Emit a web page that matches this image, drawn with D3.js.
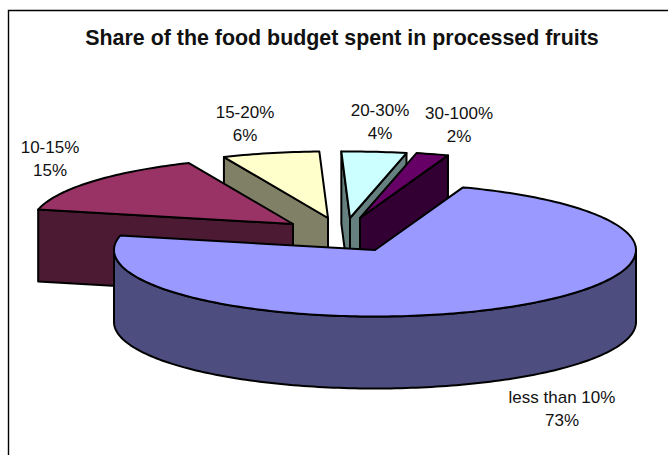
<!DOCTYPE html>
<html>
<head>
<meta charset="utf-8">
<script src="https://cdn.jsdelivr.net/npm/d3@7"></script>
<style>
  html, body { margin: 0; padding: 0; background: #fff; }
  svg { display: block; }
  text { font-family: "Liberation Sans", Arial, sans-serif; fill: #111; }
</style>
</head>
<body>
<svg id="chart" width="668" height="455"></svg>
<script>
// Budget share classes, in clockwise order from the first slice
const categories = ["less than 10%", "10-15%", "15-20%", "20-30%", "30-100%"];
const shares = [73, 15, 6, 4, 2];
const topColors = ["#9999ff", "#993366", "#ffffcc", "#ccffff", "#660066"];
const wallColors = ["#4d4d80", "#4d1a33", "#808066", "#668080", "#330033"];
const chartTitle = "Share of the food budget spent in processed fruits";

// Pie layout: tilted ellipse, wall height and per-slice pull-out
const W = 668, H = 455;
const cx = 375, cy = 250, rx = 261, ry = 66.5, depth = 72;
const firstAngle = 19.7 * Math.PI / 180;
const pullX = [0, -82, -47, -25, -15];
const pullY = [0, -26, -32, -32, -32];
const labelAt = [[562, 403], [50, 153], [245, 118], [380, 116], [459, 119]];
const labelStep = 23;

const svg = d3.select("#chart");

// Chart frame: top and left rules only, the rest runs off the page
svg.append("path")
  .attr("d", d3.line()([[8.5, H], [8.5, 10.5], [W, 10.5]]))
  .attr("fill", "none").attr("stroke", "#000").attr("stroke-width", 1.4);

svg.append("text")
  .attr("x", 342).attr("y", 45)
  .attr("text-anchor", "middle")
  .attr("font-size", 21.4).attr("font-weight", "bold")
  .text(chartTitle);

const arcs = d3.pie().sort(null).value(d => d)
  .startAngle(firstAngle).endAngle(firstAngle + 2 * Math.PI)(shares);

const xScale = d3.scaleLinear().domain([-1, 1]).range([-rx, rx]);
const yScale = d3.scaleLinear().domain([-1, 1]).range([ry, -ry]);
const rim = (a) => [xScale(Math.sin(a)), yScale(Math.cos(a))];
const line = d3.line();

function rimPoints(a0, a1) {
  const n = Math.max(2, Math.ceil(Math.abs(a1 - a0) / 0.02));
  return d3.range(n + 1).map(i => rim(a0 + (a1 - a0) * i / n));
}
const drop = pts => pts.map(([x, y]) => [x, y + depth]);

function slice(i) {
  const { startAngle: a0, endAngle: a1 } = arcs[i];
  const g = svg.append("g")
    .attr("transform", `translate(${cx + pullX[i]},${cy + pullY[i]})`);
  const wall = (pts) => g.append("path")
    .attr("d", line(pts) + "Z")
    .attr("fill", wallColors[i]).attr("stroke", "#000")
    .attr("stroke-width", 2).attr("stroke-linejoin", "round");

  // A radial cut shows only when the slice's own top lies above it,
  // i.e. the interior and the downward direction fall on opposite sides
  const inner = rim((a0 + a1) / 2);
  [a0, a1].forEach(a => {
    const p = rim(a);
    const sideDown = p[0];
    const sideInner = p[0] * inner[1] - p[1] * inner[0];
    if (sideDown * sideInner < 0) {
      const flat = [[0, 0], p];
      wall(flat.concat(drop(flat).reverse()));
    }
  });

  // Outer rim wall, only along the front half of the ellipse
  const f0 = Math.max(a0, Math.PI / 2), f1 = Math.min(a1, 3 * Math.PI / 2);
  if (f1 > f0) {
    const front = rimPoints(f0, f1);
    wall(front.concat(drop(front).reverse()));
  }

  g.append("path")
    .attr("d", line([[0, 0], ...rimPoints(a0, a1)]) + "Z")
    .attr("fill", topColors[i]).attr("stroke", "#000")
    .attr("stroke-width", 2).attr("stroke-linejoin", "round");
}

// Painted back to front so nearer slices cover farther ones
[3, 4, 2, 1, 0].forEach(slice);

// Two-line labels: class name over its share
categories.forEach((c, i) => {
  const t = svg.append("text")
    .attr("text-anchor", "middle").attr("font-size", 17);
  [c, shares[i] + "%"].forEach((s, k) => {
    t.append("tspan")
      .attr("x", labelAt[i][0]).attr("y", labelAt[i][1] + k * labelStep)
      .text(s);
  });
});
</script>
</body>
</html>
